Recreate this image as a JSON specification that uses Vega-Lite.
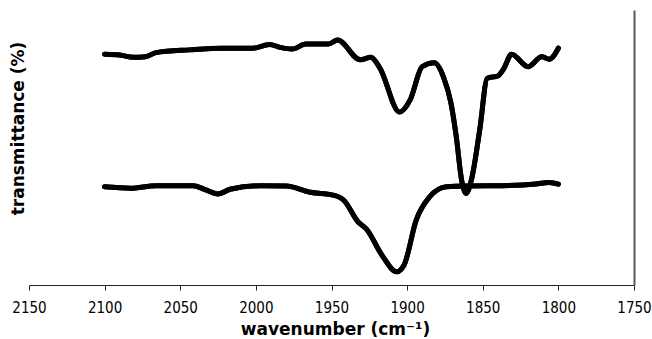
{
  "$schema": "https://vega.github.io/schema/vega-lite/v6.json",
  "width": 605,
  "height": 275,
  "autosize": {"type": "none"},
  "padding": {"left": 29, "top": 10, "right": 18, "bottom": 54},
  "background": "white",
  "config": {"view": {"stroke": null}},
  "data": {"values": [
    {"wn": 2100, "t": 83.9, "s": "A"},
    {"wn": 2090, "t": 83.6, "s": "A"},
    {"wn": 2081, "t": 82.8, "s": "A"},
    {"wn": 2073, "t": 83.0, "s": "A"},
    {"wn": 2066, "t": 84.5, "s": "A"},
    {"wn": 2044, "t": 85.5, "s": "A"},
    {"wn": 2022, "t": 86.1, "s": "A"},
    {"wn": 2002, "t": 86.1, "s": "A"},
    {"wn": 1991, "t": 87.5, "s": "A"},
    {"wn": 1984, "t": 86.4, "s": "A"},
    {"wn": 1976, "t": 85.8, "s": "A"},
    {"wn": 1967, "t": 87.6, "s": "A"},
    {"wn": 1952, "t": 87.6, "s": "A"},
    {"wn": 1946, "t": 89.1, "s": "A"},
    {"wn": 1931, "t": 81.9, "s": "A"},
    {"wn": 1924, "t": 82.8, "s": "A"},
    {"wn": 1918, "t": 78.9, "s": "A"},
    {"wn": 1905, "t": 62.9, "s": "A"},
    {"wn": 1898, "t": 67.3, "s": "A"},
    {"wn": 1890, "t": 79.4, "s": "A"},
    {"wn": 1882, "t": 80.8, "s": "A"},
    {"wn": 1876, "t": 75.7, "s": "A"},
    {"wn": 1871, "t": 66.1, "s": "A"},
    {"wn": 1867.5, "t": 53.9, "s": "A"},
    {"wn": 1864, "t": 38.2, "s": "A"},
    {"wn": 1861, "t": 33.3, "s": "A"},
    {"wn": 1857.5, "t": 38.2, "s": "A"},
    {"wn": 1852, "t": 56.4, "s": "A"},
    {"wn": 1847, "t": 75.2, "s": "A"},
    {"wn": 1840, "t": 76.0, "s": "A"},
    {"wn": 1836, "t": 78.8, "s": "A"},
    {"wn": 1831, "t": 83.9, "s": "A"},
    {"wn": 1820, "t": 79.4, "s": "A"},
    {"wn": 1811, "t": 83.0, "s": "A"},
    {"wn": 1806, "t": 82.1, "s": "A"},
    {"wn": 1800, "t": 86.1, "s": "A"},
    {"wn": 2100, "t": 35.7, "s": "B"},
    {"wn": 2083, "t": 35.2, "s": "B"},
    {"wn": 2066, "t": 36.1, "s": "B"},
    {"wn": 2041.5, "t": 36.1, "s": "B"},
    {"wn": 2034, "t": 34.8, "s": "B"},
    {"wn": 2025, "t": 33.1, "s": "B"},
    {"wn": 2017, "t": 34.8, "s": "B"},
    {"wn": 1997, "t": 36.1, "s": "B"},
    {"wn": 1980, "t": 36.0, "s": "B"},
    {"wn": 1964, "t": 33.7, "s": "B"},
    {"wn": 1949, "t": 32.7, "s": "B"},
    {"wn": 1942, "t": 30.9, "s": "B"},
    {"wn": 1932.5, "t": 23.0, "s": "B"},
    {"wn": 1927, "t": 20.4, "s": "B"},
    {"wn": 1916, "t": 10.3, "s": "B"},
    {"wn": 1907, "t": 4.8, "s": "B"},
    {"wn": 1902, "t": 7.3, "s": "B"},
    {"wn": 1894, "t": 23.6, "s": "B"},
    {"wn": 1885, "t": 32.1, "s": "B"},
    {"wn": 1874, "t": 35.7, "s": "B"},
    {"wn": 1861, "t": 36.0, "s": "B"},
    {"wn": 1837, "t": 36.1, "s": "B"},
    {"wn": 1815, "t": 36.7, "s": "B"},
    {"wn": 1806, "t": 37.3, "s": "B"},
    {"wn": 1800, "t": 36.7, "s": "B"}
  ]},
  "encoding": {
    "x": {
      "field": "wn", "type": "quantitative",
      "scale": {"domain": [1750, 2150], "reverse": true, "nice": false, "zero": false},
      "axis": {
        "values": [2150, 2100, 2050, 2000, 1950, 1900, 1850, 1800, 1750],
        "format": "d",
        "grid": false,
        "domainColor": "#222222", "domainWidth": 1,
        "tickColor": "#222222", "tickWidth": 1, "tickSize": 5,
        "labelFont": "DejaVu Sans Condensed, DejaVu Sans",
        "labelFontSize": 15, "labelColor": "black",
        "labelBaseline": "alphabetic", "labelPadding": 22,
        "labelFlush": false, "labelOverlap": false,
        "title": "wavenumber (cm⁻¹)",
        "titleFont": "DejaVu Sans", "titleFontSize": 17, "titleFontWeight": "bold",
        "titleColor": "black", "titleBaseline": "alphabetic",
        "titleX": 306, "titleY": 49
      }
    },
    "y": {
      "field": "t", "type": "quantitative",
      "scale": {"domain": [0, 100], "nice": false, "zero": false}
    },
    "detail": {"field": "s"}
  },
  "layer": [
    {
      "mark": {"type": "line", "color": "black", "strokeWidth": 5, "strokeCap": "round", "strokeJoin": "round", "interpolate": "monotone"},
      "encoding": {
        "y": {
          "field": "t", "type": "quantitative",
          "axis": {
            "orient": "left", "domain": false, "ticks": false, "labels": false, "grid": false,
            "title": "transmittance (%)",
            "titleFont": "DejaVu Sans", "titleFontSize": 17, "titleFontWeight": "bold",
            "titleColor": "black", "titleAngle": -90,
            "titleAlign": "center", "titleBaseline": "middle",
            "titleX": -11, "titleY": 118
          }
        }
      }
    },
    {
      "mark": {"type": "line", "color": "black", "strokeWidth": 5, "strokeCap": "round", "strokeJoin": "round", "interpolate": "monotone"},
      "encoding": {
        "y": {
          "field": "t", "type": "quantitative",
          "axis": {
            "orient": "right", "domain": true, "domainColor": "#595959", "domainWidth": 2,
            "ticks": false, "labels": false, "grid": false, "title": null
          }
        }
      }
    }
  ],
  "resolve": {"axis": {"y": "independent"}}
}
